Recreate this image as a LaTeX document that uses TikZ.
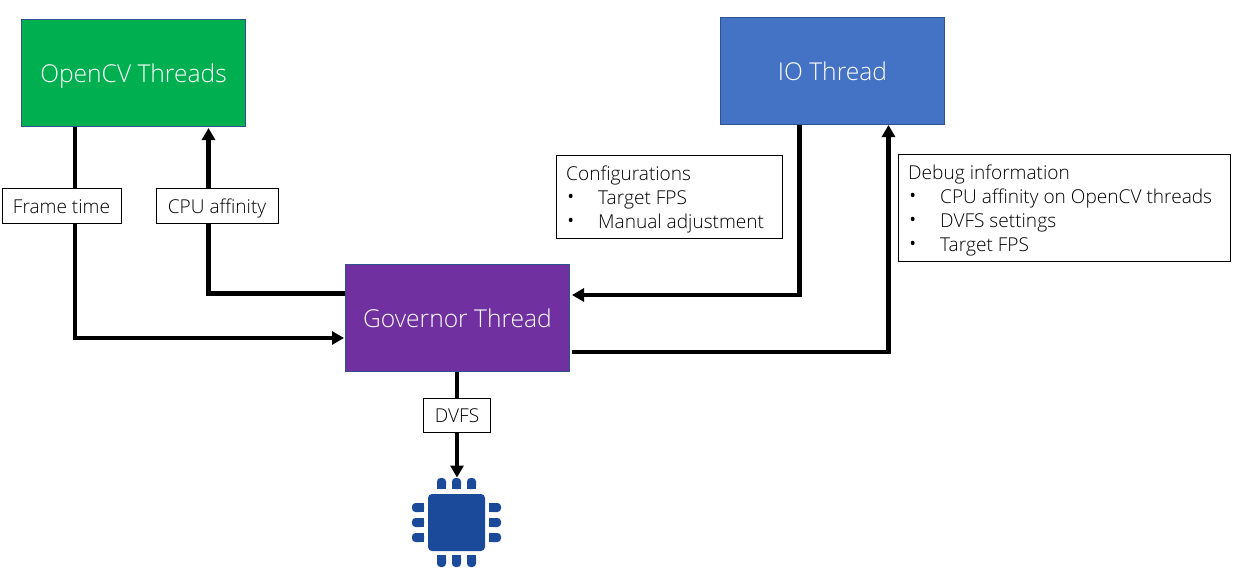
\documentclass[tikz,border=0pt]{standalone}
\usepackage{fontspec}
\setmainfont{Open Sans Light}
\usetikzlibrary{arrows.meta}
\definecolor{cvgreen}{HTML}{00B050}
\definecolor{ioblue}{HTML}{4472C4}
\definecolor{govpurple}{HTML}{7030A0}
\definecolor{edgeblue}{HTML}{2F528F}
\definecolor{chipblue}{HTML}{1C4A9A}
\newcommand{\bul}{\makebox[32pt][l]{\raisebox{-1.5pt}{\scalebox{1.3}{•}}}}
\tikzset{
  x=1pt,y=-1pt,
  thread/.style={draw=edgeblue,line width=0.8pt,text=white,minimum width=223.5pt,minimum height=106.5pt,inner sep=0pt,text height=19pt,text depth=0pt,font=\fontsize{24.6}{28}\selectfont},
  tag/.style={draw=black,line width=1pt,fill=white,inner sep=0pt,text height=15pt,text depth=0pt,font=\fontsize{19.1}{24}\selectfont,text=black},
  listtext/.style={anchor=north west,inner sep=0pt,align=left,font=\fontsize{19.1}{24}\selectfont,text=black},
  flow/.style={draw=black,line width=4.4pt,line join=miter,-{Triangle[length=12pt,width=13pt]}},
  chip/.style={fill=chipblue,draw=none},
}
\begin{document}
\begin{tikzpicture}
\useasboundingbox (0,0) rectangle (1241,581);
\fill[white] (0,0) rectangle (1241,581);
% threads
\node[thread,fill=cvgreen] (opencv) at (133.5,73) {OpenCV Threads};
\node[thread,fill=ioblue] (io) at (832.5,71) {IO Thread};
\node[thread,fill=govpurple] (gov) at (457.5,318) {Governor Thread};
% chip
\node[chip,rounded corners=4pt,minimum width=57pt,minimum height=57pt,inner sep=0pt] (cpu) at (456.5,522.5) {};
\foreach \px in {441.5,456.5,471.5}{
  \fill[chipblue,rounded corners=3.5pt] (\px-4.5,489) -- (\px-4.5,478) -- (\px+4.5,478) -- (\px+4.5,489) -- cycle;
  \fill[chipblue,rounded corners=3.5pt] (\px-4.5,555) -- (\px-4.5,567) -- (\px+4.5,567) -- (\px+4.5,555) -- cycle;
  \fill[chipblue] (\px-4.5,484) rectangle (\px+4.5,489);
  \fill[chipblue] (\px-4.5,555) rectangle (\px+4.5,560);
}
\foreach \py in {507.5,522.5,537.5}{
  \fill[chipblue,rounded corners=3.5pt] (424,\py-4.5) -- (412,\py-4.5) -- (412,\py+4.5) -- (424,\py+4.5) -- cycle;
  \fill[chipblue,rounded corners=3.5pt] (489,\py-4.5) -- (501,\py-4.5) -- (501,\py+4.5) -- (489,\py+4.5) -- cycle;
  \fill[chipblue] (419,\py-4.5) rectangle (424,\py+4.5);
  \fill[chipblue] (489,\py-4.5) rectangle (494,\py+4.5);
}
\coordinate (cputop) at (457,477.5);
% bends
\coordinate (ftbend) at (75,338);
\coordinate (cabend) at (208.5,293.5);
\coordinate (cfgbend) at (799.5,295);
\coordinate (dbgbend) at (888.5,352);
\coordinate (catip) at (208.5,128);
\coordinate (dbgtip) at (888.5,125);
\coordinate (cfgtip) at (572,295);
\coordinate (dbgstart) at (572,352);
\coordinate (fttip) at (344,338);
% connectors
\draw[flow] (opencv.south -| ftbend) -- (ftbend) -- (fttip);
\draw[flow] (gov.west |- cabend) -- (cabend) -- (catip);
\draw[flow] (io.south -| cfgbend) -- (cfgbend) -- (cfgtip);
\draw[flow] (dbgstart) -- (dbgbend) -- (dbgtip);
\draw[flow] (gov.south -| cputop) -- (cputop);
% labels
\node[tag,minimum width=119pt,minimum height=35pt] (frametime) at (61.5,205.5) {Frame time};
\node[tag,minimum width=122pt,minimum height=35pt] (affinity) at (217,205.5) {CPU affinity};
\node[tag,minimum width=67pt,minimum height=34pt] (dvfs) at (457,415) {DVFS};
\node[tag,minimum width=226pt,minimum height=83pt] (config) at (669,197) {};
\node[tag,minimum width=332pt,minimum height=107pt] (debug) at (1064,208) {};
\node[listtext] (configtext) at (566,165.5) {Configurations\\\bul Target FPS\\\bul Manual adjustment};
\node[listtext] (debugtext) at (908,164.5) {Debug information\\\bul CPU affinity on OpenCV threads\\\bul DVFS settings\\\bul Target FPS};
\end{tikzpicture}
\end{document}
